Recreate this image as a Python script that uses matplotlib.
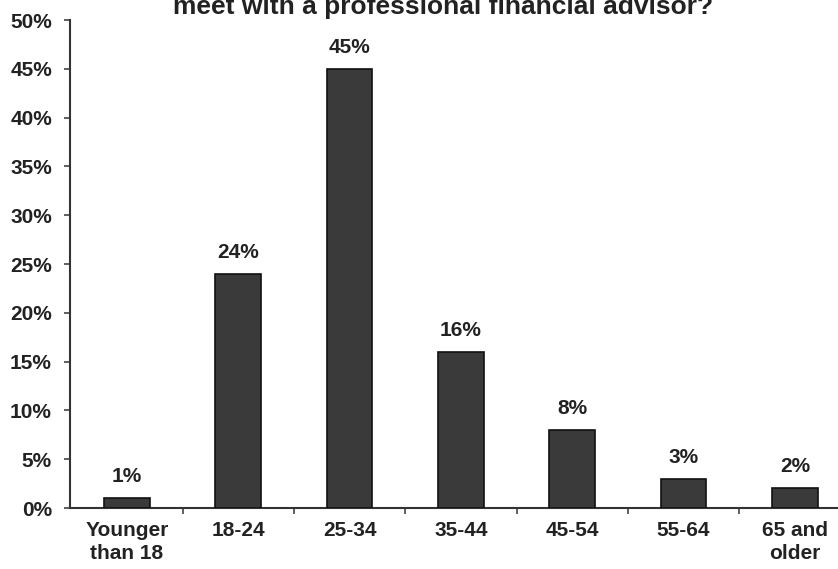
import matplotlib
matplotlib.use("Agg")
import matplotlib.pyplot as plt
from matplotlib.ticker import FixedLocator

plt.rcParams['font.family'] = ['Liberation Sans', 'DejaVu Sans']

categories = ["Younger\nthan 18", "18-24", "25-34", "35-44", "45-54", "55-64", "65 and\nolder"]
values = [1, 24, 45, 16, 8, 3, 2]
yticks = [0, 5, 10, 15, 20, 25, 30, 35, 40, 45, 50]
title_text = "meet with a professional financial advisor?"

fig = plt.figure(figsize=(8.38, 5.69), dpi=100)
ax = fig.add_axes([70 / 838, 1 - 508 / 569, 768 / 838, 488 / 569])

x = list(range(len(categories)))
ax.bar(x, values, width=0.41, color="#3a3a3a", edgecolor="#111111", linewidth=1.2, zorder=3)

for xi, v in zip(x, values):
    ax.text(xi, v + 1.65, f"{v}%", ha="center", va="baseline", fontsize=15, fontweight="bold", color="#222222")

ax.set_xlim(-0.512, 6.388)
ax.set_ylim(0, 50)
ax.set_yticks(yticks)
ax.set_yticklabels([f"{t}%" for t in yticks], fontsize=15, fontweight="bold", color="#222222")
ax.set_xticks(x)
ax.set_xticklabels(categories, fontsize=15, fontweight="bold", color="#222222", linespacing=1.3)
ax.xaxis.set_minor_locator(FixedLocator([i + 0.5 for i in x[:-1]]))
ax.tick_params(axis="x", which="major", length=0, pad=9)
ax.tick_params(axis="x", which="minor", length=4, direction="out", width=1.2, color="#444444")
ax.tick_params(axis="y", length=4, direction="out", width=1.2, color="#444444", pad=9)

for s in ["top", "right"]:
    ax.spines[s].set_visible(False)
ax.spines["left"].set_color("#333333")
ax.spines["bottom"].set_color("#333333")
ax.spines["left"].set_linewidth(1.5)
ax.spines["bottom"].set_linewidth(1.5)

fig.text(443 / 838, 1 - 14 / 569, title_text, ha="center", va="baseline", fontsize=19, fontweight="bold", color="#222222")

fig.savefig("out.png", dpi=100)
